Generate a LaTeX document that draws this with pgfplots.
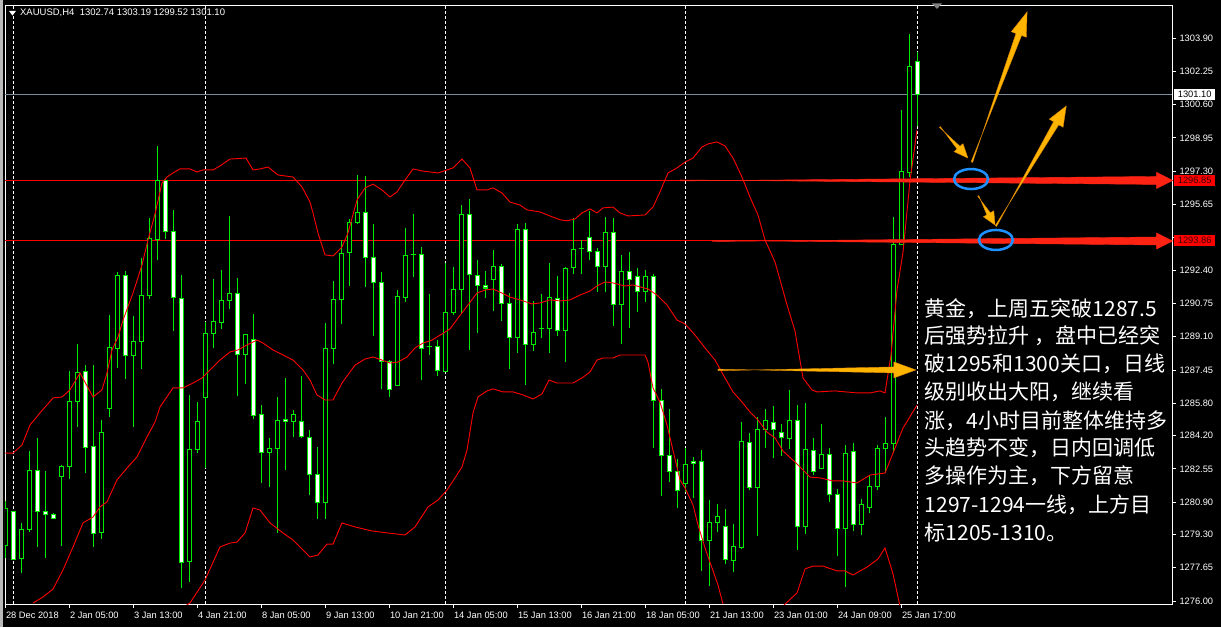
\documentclass[border=0pt]{standalone}
\usepackage{fontspec}
\setmainfont{Liberation Sans}
\newfontfamily\cjk{Noto Sans CJK SC}
\usepackage{pgfplots}
\usepackage{pgfplotstable}
\pgfplotsset{compat=1.18}
\usetikzlibrary{calc}

\definecolor{mtgreen}{RGB}{0,235,0}
\definecolor{bandred}{RGB}{255,0,0}
\definecolor{arrred}{RGB}{255,35,20}
\definecolor{gold}{RGB}{255,180,0}
\definecolor{goldedge}{RGB}{220,135,0}
\definecolor{ringblue}{RGB}{30,144,255}
\definecolor{bidgray}{RGB}{125,140,155}

% XAUUSD H4 bars: index, open, high, low, close
\pgfplotstableread{
n o h l c
0 1278.74 1280.96 1278.15 1280.59
1 1280.44 1280.44 1278.08 1278.08
2 1278.11 1279.85 1277.40 1279.55
3 1279.55 1283.43 1279.44 1282.47
4 1282.47 1284.06 1278.69 1280.44
5 1280.44 1282.44 1278.15 1280.30
6 1280.30 1280.35 1280.10 1280.10
7 1282.18 1282.74 1278.74 1282.67
8 1282.67 1287.40 1282.05 1285.90
9 1285.90 1288.74 1284.64 1287.33
10 1287.38 1287.70 1282.33 1283.62
11 1283.67 1287.70 1278.69 1279.36
12 1279.40 1284.97 1279.09 1284.36
13 1285.55 1290.17 1285.13 1288.57
14 1288.52 1292.32 1287.56 1292.14
15 1292.14 1292.35 1286.98 1288.17
16 1288.17 1290.12 1284.61 1288.87
17 1288.87 1292.98 1287.48 1291.15
18 1291.15 1295.00 1290.97 1293.97
19 1293.92 1298.55 1292.90 1296.85
20 1296.85 1296.90 1293.94 1294.32
21 1294.32 1295.38 1289.40 1291.05
22 1290.98 1292.16 1276.63 1277.92
23 1277.97 1286.19 1276.96 1283.52
24 1283.52 1285.86 1283.32 1284.90
25 1286.09 1289.81 1282.58 1289.26
26 1289.26 1291.96 1288.55 1289.86
27 1289.79 1292.40 1289.50 1290.90
28 1290.90 1295.08 1290.49 1291.25
29 1291.25 1292.00 1286.18 1288.22
30 1288.22 1289.21 1286.77 1289.21
31 1288.97 1290.22 1285.00 1285.20
32 1285.25 1285.71 1281.83 1283.37
33 1283.37 1284.06 1281.67 1283.57
34 1283.57 1286.11 1279.39 1284.95
35 1285.00 1287.05 1282.49 1284.90
36 1284.90 1285.46 1284.14 1285.25
37 1284.90 1287.15 1284.10 1284.16
38 1284.11 1284.47 1281.24 1282.28
39 1282.28 1283.63 1280.08 1280.89
40 1280.89 1289.78 1280.08 1288.52
41 1288.52 1291.86 1287.73 1290.95
42 1290.95 1293.89 1289.75 1293.23
43 1293.26 1294.93 1291.63 1294.77
44 1294.77 1297.11 1294.70 1295.26
45 1295.26 1297.06 1291.58 1293.03
46 1293.03 1294.68 1289.13 1291.79
47 1291.79 1292.30 1286.49 1287.88
48 1287.88 1287.94 1286.13 1286.49
49 1286.67 1291.41 1286.67 1291.10
50 1291.05 1294.48 1290.82 1293.13
51 1293.15 1295.18 1292.07 1293.15
52 1293.18 1293.54 1286.97 1288.52
53 1288.60 1291.21 1288.19 1288.60
54 1288.60 1288.93 1287.15 1287.43
55 1287.36 1292.73 1287.36 1290.31
56 1290.31 1292.55 1290.17 1291.45
57 1291.45 1295.62 1290.22 1295.16
58 1295.16 1295.90 1288.44 1292.19
59 1292.14 1292.90 1289.30 1291.64
60 1291.61 1292.36 1291.03 1291.51
61 1291.94 1293.40 1290.39 1292.58
62 1292.58 1292.70 1289.89 1290.75
63 1290.75 1291.25 1287.51 1289.07
64 1289.07 1294.68 1288.31 1294.42
65 1294.42 1294.71 1286.72 1288.72
66 1288.72 1290.87 1288.41 1289.31
67 1289.51 1291.21 1289.05 1289.51
68 1289.51 1292.75 1288.31 1291.05
69 1290.98 1292.12 1289.15 1289.41
70 1289.41 1292.55 1287.86 1292.49
71 1292.54 1294.98 1292.22 1293.43
72 1293.46 1293.89 1292.22 1293.46
73 1294.02 1295.34 1292.90 1293.33
74 1293.33 1293.48 1291.33 1292.57
75 1292.57 1295.03 1291.33 1294.27
76 1294.27 1294.98 1289.65 1290.69
77 1290.70 1293.15 1288.75 1292.34
78 1292.34 1293.30 1289.55 1291.94
79 1292.09 1292.49 1290.34 1291.35
80 1291.35 1292.40 1290.84 1292.09
81 1292.09 1292.21 1283.60 1285.95
82 1285.95 1286.51 1281.22 1283.22
83 1283.22 1285.52 1281.92 1282.43
84 1282.43 1283.02 1280.63 1281.49
85 1281.83 1283.58 1281.42 1282.77
86 1282.92 1283.14 1281.09 1282.82
87 1282.92 1283.48 1277.51 1279.01
88 1279.01 1281.01 1276.76 1279.90
89 1279.90 1280.81 1279.44 1280.20
90 1279.70 1280.56 1277.85 1278.07
91 1278.02 1279.82 1277.42 1278.71
92 1278.66 1284.87 1278.56 1283.91
93 1283.86 1284.33 1281.48 1281.63
94 1281.63 1285.10 1279.24 1284.51
95 1284.51 1285.52 1283.60 1284.95
96 1284.86 1285.67 1283.07 1284.51
97 1284.37 1284.78 1283.17 1284.10
98 1284.04 1286.47 1283.54 1284.93
99 1284.93 1285.73 1278.53 1279.70
100 1279.70 1285.82 1279.33 1283.52
101 1283.48 1284.08 1282.24 1282.43
102 1282.59 1284.75 1282.52 1283.28
103 1283.28 1283.59 1280.89 1281.26
104 1281.26 1281.53 1278.21 1279.60
105 1279.60 1283.72 1276.67 1283.33
106 1283.43 1283.82 1279.46 1279.81
107 1279.81 1281.03 1279.25 1280.79
108 1280.64 1282.24 1280.37 1281.65
109 1281.65 1283.72 1281.50 1283.54
110 1283.54 1285.12 1282.33 1283.78
111 1283.78 1295.01 1283.35 1293.65
112 1293.65 1300.34 1293.63 1297.27
113 1297.22 1304.08 1296.99 1302.49
114 1302.74 1303.19 1299.52 1301.10
}\candles

% tapered arrow: start, end, start half width, shaft end half width, head length, head half width, colour
\newcommand{\taper}[7]{%
  \coordinate (ta) at #1;
  \coordinate (tb) at #2;
  \coordinate (th) at ($(tb)!#5!(ta)$);
  \filldraw[#7] ($(ta)!#3!90:(tb)$) -- ($(th)!#4!-90:(tb)$) -- ($(th)!#6!-90:(tb)$)
    -- (tb) -- ($(th)!#6!90:(tb)$) -- ($(th)!#4!90:(tb)$) -- ($(ta)!#3!-90:(tb)$) -- cycle;
}

\begin{document}
\begin{tikzpicture}
\path[use as bounding box] (0pt,0pt) rectangle (1221pt,627pt);
\fill[black] (0pt,0pt) rectangle (1221pt,627pt);
\fill[gray!55] (0pt,0pt) rectangle (3pt,627pt);
\begin{axis}[
  at={(5pt,23pt)}, anchor=south west,
  width=1167pt, height=599pt, scale only axis,
  xmin=-0.0625, xmax=145.8125, ymin=1275.851, ymax=1305.534,
  clip mode=individual,
  axis line style={white, line width=0.8pt},
  tick align=outside, major tick length=4pt,
  tick style={white, line width=0.8pt},
  xtick pos=bottom, ytick pos=right, yticklabel pos=right,
  xtick={0,8,...,112},
  xticklabels={28 Dec 2018,2 Jan 05:00,3 Jan 13:00,4 Jan 21:00,8 Jan 05:00,9 Jan 13:00,10 Jan 21:00,14 Jan 05:00,15 Jan 13:00,16 Jan 21:00,18 Jan 05:00,21 Jan 13:00,23 Jan 01:00,24 Jan 09:00,25 Jan 17:00},
  xticklabel style={anchor=north west, xshift=-3pt, text=white, font=\fontsize{9.3}{10}\selectfont},
  ytick={1276.00,1277.65,1279.30,1280.90,1282.55,1284.20,1285.80,1287.45,1289.10,1290.75,1292.40,1294.00,1295.65,1297.30,1298.95,1300.60,1302.25,1303.90},
  % the 1294.00 label sits under the 1293.86 price tag
  yticklabels={1276.00,1277.65,1279.30,1280.90,1282.55,1284.20,1285.80,1287.45,1289.10,1290.75,1292.40,{},1295.65,1297.30,1298.95,1300.60,1302.25,1303.90},
  yticklabel style={anchor=west, text=white, font=\fontsize{9.3}{10}\selectfont},
]
% weekly separators
\pgfplotsinvokeforeach{1,25,55,85,114}{
  \draw[white, line width=1pt, dash pattern=on 3pt off 2pt] (axis cs:#1,1275.851) -- (axis cs:#1,1305.534);
}
% price levels
\addplot[bandred, line width=1pt, forget plot] coordinates {(-0.0625,1296.85) (145.8125,1296.85)};
\addplot[bandred, line width=1pt, forget plot] coordinates {(-0.0625,1293.86) (145.8125,1293.86)};
\addplot[bidgray, line width=1pt, forget plot] coordinates {(-0.0625,1301.10) (145.8125,1301.10)};

% candles: wicks, body outline, hollow inside, white bear bodies
\addplot[draw=none, mark=none, forget plot, error bars/.cd, y dir=plus, y explicit, error mark=none,
  error bar style={draw=mtgreen, line width=1pt}]
  table[x=n, y=l, y error expr={\thisrow{h}-\thisrow{l}}] {\candles};
\addplot[draw=none, mark=none, forget plot, error bars/.cd, y dir=plus, y explicit, error mark=none,
  error bar style={draw=mtgreen, line width=5pt}]
  table[x=n, y expr={min(\thisrow{o},\thisrow{c})-0.025}, y error expr={abs(\thisrow{c}-\thisrow{o})+0.05}] {\candles};
\addplot[draw=none, mark=none, forget plot, error bars/.cd, y dir=plus, y explicit, error mark=none,
  error bar style={draw=black, line width=3pt}]
  table[x=n, y expr={min(\thisrow{o},\thisrow{c})+0.025}, y error expr={max(abs(\thisrow{c}-\thisrow{o})-0.05,0)}] {\candles};
\addplot[draw=none, mark=none, forget plot, error bars/.cd, y dir=plus, y explicit, error mark=none,
  error bar style={draw=white, line width=3pt}]
  table[x=n, y expr={\thisrow{c}+0.025}, y error expr={\thisrow{c}<\thisrow{o} ? max(\thisrow{o}-\thisrow{c}-0.05,0) : 0}] {\candles};

% Bollinger bands
\addplot[bandred, line width=0.9pt, mark=none] coordinates {
(0,1283.33)(0.94,1283.33)(2.06,1283.73)(3.06,1284.72)(4.31,1285.32)(5.94,1286.06)(7.06,1286.11)(8.06,1286.46)(9.31,1287.30)(10.94,1286.11)(12.06,1286.46)(12.69,1287.30)(13.31,1288.44)(14.06,1289.08)(14.69,1289.92)(15.94,1291.26)(17.06,1292.65)(17.81,1293.89)(18.69,1295.18)(19.56,1296.71)(20.19,1297.01)(20.94,1297.21)(21.81,1297.41)(23.06,1297.41)(23.94,1297.26)(24.69,1297.36)(25.94,1297.36)(26.81,1297.56)(28.06,1297.90)(30.06,1297.95)(30.94,1297.36)(31.81,1297.41)(32.81,1297.51)(34.06,1297.11)(35.94,1297.01)(37.06,1296.52)(38.06,1295.77)(38.44,1295.23)(39.06,1294.24)(39.94,1293.15)(40.94,1293.10)(42.06,1293.54)(42.81,1294.24)(43.94,1295.87)(44.94,1296.47)(45.94,1296.66)(47.06,1296.37)(48.06,1296.02)(48.94,1296.27)(49.94,1296.86)(50.94,1297.41)(52.06,1297.31)(54.06,1297.21)(55.19,1297.36)(55.94,1297.46)(57.06,1297.90)(58.06,1297.46)(58.94,1296.37)(60.19,1296.37)(60.94,1296.47)(62.06,1296.22)(63.06,1295.77)(64.31,1295.62)(65.19,1295.38)(66.81,1295.28)(68.06,1295.08)(69.31,1294.89)(70.19,1294.84)(71.19,1294.93)(72.06,1295.23)(73.06,1295.43)(73.94,1295.23)(74.69,1295.48)(75.94,1295.52)(76.81,1295.23)(77.81,1295.08)(79.94,1295.13)(80.94,1295.52)(81.81,1296.27)(82.81,1297.21)(83.94,1297.46)(84.94,1297.75)(85.94,1297.95)(87.06,1298.50)(87.81,1298.65)(88.94,1298.75)(89.94,1298.55)(90.94,1297.95)(92.06,1297.01)(93.06,1296.02)(94.06,1295.13)(94.94,1293.89)(96.19,1292.80)(97.69,1290.67)(98.69,1289.38)(99.69,1287.05)(100.81,1286.46)(101.44,1286.36)(103.69,1286.41)(106.44,1286.31)(108.06,1286.31)(109.31,1286.41)(109.94,1286.31)(110.69,1288.19)(111.44,1291.41)(112.19,1293.29)(113.06,1296.81)(113.94,1299.34)
};
\addplot[bandred, line width=0.9pt, mark=none] coordinates {
(3.44,1275.90)(4.69,1276.20)(5.94,1276.59)(7.19,1277.54)(8.44,1278.68)(9.69,1279.87)(10.94,1280.16)(11.81,1280.66)(12.69,1280.91)(13.94,1282.00)(15.19,1282.59)(16.44,1283.14)(17.69,1284.13)(18.69,1284.87)(19.31,1285.61)(20.94,1286.56)(22.19,1286.56)(23.44,1286.80)(24.56,1287.05)(25.56,1287.45)(26.81,1287.94)(28.06,1288.34)(29.06,1288.44)(30.19,1288.69)(31.44,1288.93)(32.19,1288.78)(33.44,1288.44)(34.69,1288.19)(35.94,1287.94)(37.19,1287.45)(38.06,1286.95)(38.94,1286.21)(39.94,1285.96)(40.94,1285.96)(42.06,1286.80)(43.69,1287.69)(44.94,1287.99)(45.94,1288.09)(47.06,1287.94)(48.06,1287.79)(49.06,1287.84)(50.19,1288.09)(51.19,1288.54)(52.19,1288.78)(53.31,1288.93)(54.56,1289.23)(55.56,1289.48)(56.56,1290.02)(57.81,1290.67)(58.94,1291.26)(59.94,1291.41)(60.94,1291.46)(62.06,1291.26)(63.06,1291.06)(64.31,1290.92)(65.81,1290.72)(66.81,1290.77)(68.06,1290.92)(69.31,1290.87)(70.56,1290.92)(71.81,1291.16)(73.06,1291.36)(73.94,1291.61)(74.94,1291.81)(75.94,1291.76)(77.44,1291.61)(78.44,1291.66)(80.31,1291.46)(81.44,1291.16)(82.69,1290.67)(83.94,1289.92)(84.94,1289.73)(86.19,1289.18)(87.44,1288.54)(88.69,1287.94)(89.94,1287.05)(90.94,1286.36)(92.06,1285.86)(93.06,1285.37)(94.06,1284.97)(95.19,1284.37)(96.19,1284.08)(97.19,1283.43)(98.69,1282.89)(99.56,1282.54)(100.56,1282.14)(101.81,1282.10)(103.44,1281.95)(104.69,1281.95)(106.44,1281.85)(108.06,1282.24)(109.94,1282.34)(110.94,1283.33)(112.19,1284.57)(113.94,1285.71)
};
\addplot[bandred, line width=0.9pt, mark=none] coordinates {
(22.44,1275.75)(23.06,1275.90)(24.94,1277.04)(26.81,1278.68)(28.06,1278.87)(28.94,1278.92)(29.94,1279.37)(30.94,1280.61)(31.81,1280.51)(33.06,1279.87)(34.69,1279.37)(35.94,1279.02)(38.06,1278.18)(39.06,1278.28)(40.19,1278.82)(40.94,1278.82)(42.06,1279.87)(43.69,1279.67)(45.81,1279.47)(47.81,1279.37)(49.94,1279.27)(51.19,1279.67)(52.81,1280.66)(54.06,1281.00)(55.19,1281.50)(56.19,1282.10)(57.06,1282.64)(57.69,1283.48)(58.44,1285.32)(59.06,1286.11)(60.19,1286.41)(60.94,1286.51)(62.19,1286.36)(63.44,1286.36)(64.69,1286.21)(65.94,1286.01)(67.06,1286.26)(67.94,1286.95)(68.94,1286.80)(70.94,1286.80)(72.06,1287.05)(73.06,1287.35)(73.94,1287.94)(74.69,1288.04)(75.94,1288.04)(76.81,1288.19)(79.94,1288.19)(80.31,1287.84)(80.94,1286.56)(81.81,1285.86)(82.69,1284.72)(84.31,1282.00)(84.94,1281.60)(85.94,1280.76)(86.56,1279.77)(87.44,1278.63)(88.31,1277.64)(89.06,1276.79)(89.69,1275.85)
};
\addplot[bandred, line width=0.9pt, mark=none] coordinates {
(97.19,1275.75)(98.94,1276.40)(99.94,1277.59)(100.94,1277.73)(102.19,1277.73)(103.94,1277.49)(104.94,1277.49)(105.94,1277.29)(107.69,1277.68)(109.06,1278.08)(109.94,1278.63)(110.94,1277.34)(111.81,1275.75)
};

% drawn annotations
\taper{(axis cs:84.31,1296.84)}{(axis cs:145.9,1296.84)}{0.5pt}{4pt}{16pt}{8pt}{arrred}
\taper{(axis cs:88.31,1293.84)}{(axis cs:145.9,1293.84)}{0.5pt}{4pt}{16pt}{8pt}{arrred}
\taper{(axis cs:89.06,1287.45)}{(axis cs:113.8,1287.45)}{0.8pt}{3pt}{22pt}{8pt}{gold, draw=goldedge, line width=0.4pt}
\taper{(axis cs:116.8,1299.49)}{(axis cs:120.3,1297.95)}{0.6pt}{2pt}{14pt}{6pt}{gold, draw=goldedge, line width=0.4pt}
\taper{(axis cs:120.8,1297.75)}{(axis cs:127.7,1305.19)}{0.8pt}{3pt}{24pt}{8pt}{gold, draw=goldedge, line width=0.4pt}
\taper{(axis cs:121.6,1296.07)}{(axis cs:123.7,1294.63)}{0.6pt}{2pt}{13pt}{6pt}{gold, draw=goldedge, line width=0.4pt}
\taper{(axis cs:123.8,1294.58)}{(axis cs:132.6,1300.53)}{0.8pt}{3pt}{20pt}{8pt}{gold, draw=goldedge, line width=0.4pt}
\draw[ringblue, line width=2.5pt] (axis cs:120.7,1296.91) ellipse [x radius=17pt, y radius=10pt];
\draw[ringblue, line width=2.5pt] (axis cs:123.8,1293.89) ellipse [x radius=17pt, y radius=10pt];

% header
\fill[white] (axis cs:0.44,1305.24) -- (axis cs:1.31,1305.24) -- (axis cs:0.875,1305.01) -- cycle;
\fill[gray] (axis cs:115.8,1305.61) -- (axis cs:117.06,1305.61) -- (axis cs:116.44,1305.34) -- cycle;
\node[anchor=west, inner sep=0pt, text=white, font=\fontsize{9.5}{10}\selectfont] at (rel axis cs:0.0128,0.9866) {XAUUSD,H4\ \ 1302.74 1303.19 1299.52 1301.10};

% comment text
\begin{scope}[every node/.style={anchor=base west, inner sep=0pt, text=white, font=\cjk\fontsize{21}{21}\selectfont}]
\node at (axis cs:114.9,1290.12) {黄金，上周五突破1287.5};
\node at (axis cs:114.9,1288.74) {后强势拉升 ，盘中已经突};
\node at (axis cs:114.9,1287.35) {破1295和1300关口，日线};
\node at (axis cs:114.9,1285.96) {级别收出大阳，继续看};
\node at (axis cs:114.9,1284.57) {涨，4小时目前整体维持多};
\node at (axis cs:114.9,1283.19) {头趋势不变，日内回调低};
\node at (axis cs:114.9,1281.80) {多操作为主，下方留意};
\node at (axis cs:114.9,1280.41) {1297-1294一线，上方目};
\node at (axis cs:114.9,1279.02) {标1205-1310。};
\end{scope}

\coordinate (bid) at (axis cs:145.8125,1301.10);
\coordinate (lvA) at (axis cs:145.8125,1296.85);
\coordinate (lvB) at (axis cs:145.8125,1293.86);
\end{axis}
% price tags on the scale
\begin{scope}[every node/.style={anchor=west, inner sep=0pt, minimum width=41pt, minimum height=11pt, font=\fontsize{9.3}{10}\selectfont}]
\node[fill=white, text=black] at ([xshift=2pt]bid) {1301.10};
\node[fill=red, text=black!75!red] at ([xshift=2pt]lvA) {1296.85};
\node[fill=red, text=black!75!red] at ([xshift=2pt]lvB) {1293.86};
\end{scope}
\end{tikzpicture}
\end{document}
